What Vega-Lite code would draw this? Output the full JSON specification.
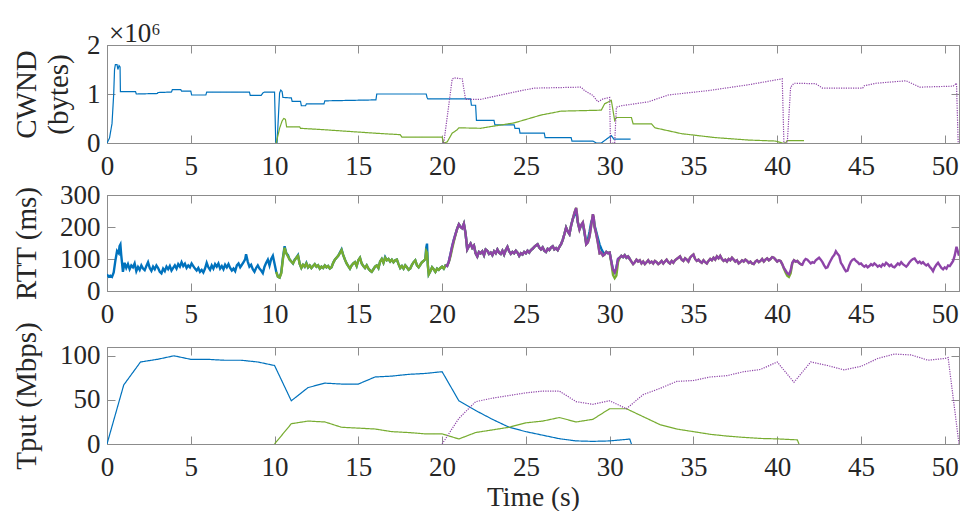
{
"$schema": "https://vega.github.io/schema/vega-lite/v6.json",
"background": "white",
"padding": {"left": 11, "top": 19, "right": 2, "bottom": 5},
"datasets": {
"cwnd": [
{"t":0,"a":0},{"t":0.15,"a":0.1},{"t":0.3,"a":0.4},{"t":0.4,"a":1.0},{"t":0.45,"a":1.5},{"t":0.5,"a":1.6},{"t":0.6,"a":1.6},{"t":0.65,"a":1.5},{"t":0.72,"a":1.58},{"t":0.78,"a":1.55},{"t":0.8,"a":1.05},{"t":1.7,"a":1.05},{"t":1.75,"a":1.0},{"t":3.0,"a":1.01},{"t":3.05,"a":1.03},{"t":3.85,"a":1.04},{"t":3.9,"a":1.09},{"t":4.4,"a":1.09},{"t":4.45,"a":1.06},{"t":5.0,"a":1.06},{"t":5.05,"a":0.98},{"t":5.9,"a":0.98},{"t":5.95,"a":1.04},{"t":8.5,"a":1.04},{"t":8.55,"a":0.97},{"t":9.2,"a":0.97},{"t":9.3,"a":1.02},{"t":9.4,"a":1.04},{"t":10.0,"a":1.04},{"t":10.07,"a":0.02},{"t":10.15,"a":0.0},{"t":10.3,"a":1.02},{"t":10.37,"a":1.08},{"t":10.45,"a":1.05},{"t":10.5,"a":0.93},{"t":11.0,"a":0.92},{"t":11.05,"a":0.85},{"t":11.55,"a":0.85},{"t":11.6,"a":0.76},{"t":11.85,"a":0.76},{"t":11.9,"a":0.8},{"t":12.95,"a":0.8},{"t":13.0,"a":0.86},{"t":16.05,"a":0.88},{"t":16.1,"a":1.0},{"t":19.05,"a":1.0},{"t":19.1,"a":0.93},{"t":19.15,"a":0.9},{"t":21.7,"a":0.9},{"t":21.75,"a":0.77},{"t":22.0,"a":0.77},{"t":22.05,"a":0.46},{"t":23.1,"a":0.46},{"t":23.15,"a":0.37},{"t":24.3,"a":0.37},{"t":24.35,"a":0.3},{"t":24.6,"a":0.3},{"t":24.65,"a":0.2},{"t":26.1,"a":0.2},{"t":26.15,"a":0.11},{"t":27.7,"a":0.11},{"t":27.75,"a":0.04},{"t":29.0,"a":0.04},{"t":29.2,"a":0.0},{"t":29.5,"a":0.0},{"t":29.9,"a":0.1},{"t":30.1,"a":0.15},{"t":30.25,"a":0.08},{"t":31.25,"a":0.08},
{"t":10.1,"b":0},{"t":10.3,"b":0.3},{"t":10.45,"b":0.45},{"t":10.55,"b":0.5},{"t":10.65,"b":0.48},{"t":10.72,"b":0.33},{"t":11.5,"b":0.33},{"t":11.55,"b":0.3},{"t":13,"b":0.27},{"t":16,"b":0.2},{"t":17.5,"b":0.17},{"t":17.6,"b":0.12},{"t":20.0,"b":0.12},{"t":20.1,"b":0.0},{"t":20.3,"b":0.02},{"t":20.6,"b":0.2},{"t":20.9,"b":0.27},{"t":21.0,"b":0.31},{"t":22.3,"b":0.3},{"t":23.0,"b":0.34},{"t":24.3,"b":0.41},{"t":25.9,"b":0.57},{"t":27.1,"b":0.65},{"t":29.5,"b":0.67},{"t":29.7,"b":0.8},{"t":30.1,"b":0.87},{"t":30.3,"b":0.46},{"t":30.4,"b":0.52},{"t":31.3,"b":0.52},{"t":31.4,"b":0.39},{"t":32.5,"b":0.39},{"t":32.7,"b":0.31},{"t":34.3,"b":0.19},{"t":36.3,"b":0.11},{"t":38.3,"b":0.06},{"t":39.9,"b":0.04},{"t":40.3,"b":0.0},{"t":40.5,"b":0.0},{"t":40.6,"b":0.05},{"t":41.6,"b":0.05},
{"t":20.1,"c":0},{"t":20.6,"c":1.3},{"t":20.7,"c":1.33},{"t":21.2,"c":1.31},{"t":21.4,"c":0.89},{"t":22.3,"c":0.89},{"t":24.3,"c":1.04},{"t":25.5,"c":1.12},{"t":28.3,"c":1.14},{"t":28.5,"c":1.07},{"t":29.0,"c":0.97},{"t":29.3,"c":0.84},{"t":29.6,"c":0.9},{"t":30.0,"c":0.93},{"t":30.05,"c":0},{"t":30.3,"c":0},{"t":30.4,"c":0.73},{"t":30.7,"c":0.76},{"t":32.3,"c":0.84},{"t":33.5,"c":0.98},{"t":35.9,"c":1.07},{"t":38.3,"c":1.19},{"t":40.3,"c":1.31},{"t":40.4,"c":0},{"t":40.6,"c":0},{"t":40.8,"c":1.14},{"t":41.0,"c":1.22},{"t":42.3,"c":1.21},{"t":42.7,"c":1.12},{"t":45.1,"c":1.12},{"t":45.2,"c":1.17},{"t":45.9,"c":1.22},{"t":47.7,"c":1.27},{"t":48.5,"c":1.14},{"t":50.5,"c":1.16},{"t":50.7,"c":1.22},{"t":50.8,"c":0}
],
"tput": [
{"t":0,"a":0},{"t":1,"a":67},{"t":2,"a":93},{"t":3,"a":96},{"t":4,"a":100},{"t":5,"a":96},{"t":6,"a":96},{"t":7,"a":95},{"t":8,"a":95},{"t":9,"a":93},{"t":10,"a":89},{"t":11,"a":49},{"t":12,"a":64},{"t":13,"a":69},{"t":14,"a":68},{"t":15,"a":68},{"t":16,"a":76},{"t":17,"a":77},{"t":18,"a":79},{"t":19,"a":80},{"t":20,"a":82},{"t":21,"a":49},{"t":22,"a":38},{"t":23,"a":28},{"t":24,"a":19},{"t":25,"a":14},{"t":26,"a":10},{"t":27,"a":6},{"t":28,"a":3.5},{"t":29,"a":3},{"t":30,"a":3.5},{"t":31.2,"a":5.6},{"t":31.3,"a":0},
{"t":10,"b":0},{"t":11,"b":23},{"t":12,"b":26},{"t":13,"b":25},{"t":14,"b":19},{"t":15,"b":18},{"t":16,"b":17},{"t":17,"b":14},{"t":18,"b":13},{"t":19,"b":11.5},{"t":20,"b":11.5},{"t":21,"b":5.7},{"t":22,"b":13},{"t":23,"b":16},{"t":24,"b":19},{"t":25,"b":24},{"t":26,"b":26},{"t":27,"b":30},{"t":28,"b":25},{"t":29,"b":28},{"t":30,"b":40},{"t":31,"b":40},{"t":32,"b":31},{"t":33,"b":22},{"t":34,"b":17},{"t":35,"b":14},{"t":36,"b":11},{"t":37,"b":9},{"t":38,"b":7.5},{"t":39,"b":6.3},{"t":40,"b":5.8},{"t":41.2,"b":4.7},{"t":41.3,"b":0},
{"t":20,"c":0},{"t":21,"c":29},{"t":22,"c":48},{"t":23,"c":52},{"t":24,"c":55},{"t":25,"c":58},{"t":26,"c":60},{"t":27,"c":60},{"t":28,"c":48},{"t":29,"c":45},{"t":30,"c":49},{"t":31,"c":40},{"t":32,"c":56},{"t":33,"c":63},{"t":34,"c":71},{"t":35,"c":72},{"t":36,"c":76},{"t":37,"c":77.5},{"t":38,"c":82},{"t":39,"c":84.5},{"t":40,"c":93},{"t":41,"c":70},{"t":42,"c":93},{"t":43,"c":89},{"t":44,"c":84},{"t":45,"c":88},{"t":46,"c":97},{"t":47,"c":102},{"t":48,"c":101},{"t":49,"c":95},{"t":50,"c":97},{"t":50.2,"c":98},{"t":50.85,"c":0}
],
"rtt": [
{"t":0,"a":52},{"t":0.1,"a":45},{"t":0.2,"a":48},{"t":0.3,"a":44},{"t":0.4,"a":58},{"t":0.5,"a":95},{"t":0.6,"a":125},{"t":0.7,"a":118},{"t":0.75,"a":140},{"t":0.8,"a":145},{"t":0.85,"a":112},{"t":0.95,"a":60},{"t":1.05,"a":88},{"t":1.15,"a":72},{"t":1.25,"a":84},{"t":1.35,"a":68},{"t":1.45,"a":80},{"t":1.55,"a":74},{"t":1.65,"a":86},{"t":1.75,"a":62},{"t":1.85,"a":75},{"t":1.95,"a":66},{"t":2.05,"a":80},{"t":2.15,"a":70},{"t":2.25,"a":65},{"t":2.35,"a":78},{"t":2.45,"a":90},{"t":2.55,"a":72},{"t":2.65,"a":63},{"t":2.75,"a":76},{"t":2.85,"a":68},{"t":2.95,"a":80},{"t":3.05,"a":72},{"t":3.15,"a":60},{"t":3.25,"a":55},{"t":3.35,"a":70},{"t":3.45,"a":62},{"t":3.55,"a":76},{"t":3.65,"a":68},{"t":3.75,"a":78},{"t":3.85,"a":64},{"t":3.95,"a":72},{"t":4.05,"a":80},{"t":4.15,"a":70},{"t":4.25,"a":84},{"t":4.35,"a":76},{"t":4.45,"a":90},{"t":4.55,"a":78},{"t":4.65,"a":85},{"t":4.75,"a":72},{"t":4.85,"a":80},{"t":4.95,"a":74},{"t":5.05,"a":86},{"t":5.15,"a":78},{"t":5.25,"a":70},{"t":5.35,"a":64},{"t":5.45,"a":72},{"t":5.55,"a":60},{"t":5.65,"a":66},{"t":5.75,"a":58},{"t":5.85,"a":70},{"t":5.95,"a":88},{"t":6.05,"a":74},{"t":6.15,"a":66},{"t":6.25,"a":80},{"t":6.35,"a":70},{"t":6.45,"a":84},{"t":6.55,"a":76},{"t":6.65,"a":86},{"t":6.75,"a":70},{"t":6.85,"a":78},{"t":6.95,"a":68},{"t":7.05,"a":82},{"t":7.15,"a":74},{"t":7.25,"a":84},{"t":7.35,"a":72},{"t":7.45,"a":64},{"t":7.55,"a":70},{"t":7.65,"a":62},{"t":7.75,"a":80},{"t":7.85,"a":86},{"t":7.95,"a":74},{"t":8.05,"a":82},{"t":8.15,"a":90},{"t":8.25,"a":100},{"t":8.3,"a":115},{"t":8.4,"a":92},{"t":8.5,"a":76},{"t":8.6,"a":82},{"t":8.7,"a":68},{"t":8.8,"a":60},{"t":8.9,"a":72},{"t":9.0,"a":80},{"t":9.1,"a":70},{"t":9.2,"a":64},{"t":9.3,"a":56},{"t":9.4,"a":76},{"t":9.5,"a":88},{"t":9.6,"a":98},{"t":9.7,"a":80},{"t":9.8,"a":100},{"t":9.9,"a":110},{"t":10.0,"a":85},
{"t":10.1,"a":60,"b":60},{"t":10.2,"a":45,"b":45},{"t":10.3,"a":42,"b":42},{"t":10.4,"a":58,"b":55},{"t":10.5,"a":104,"b":100},{"t":10.6,"a":140,"b":135},{"t":10.7,"a":118,"b":118},{"t":10.8,"a":112,"b":108},{"t":10.9,"a":98,"b":98},{"t":11.0,"a":92,"b":92},{"t":11.1,"a":86,"b":86},{"t":11.2,"a":98,"b":96},{"t":11.3,"a":104,"b":104},{"t":11.4,"a":112,"b":110},{"t":11.5,"a":85,"b":85},{"t":11.6,"a":72,"b":72},{"t":11.7,"a":82,"b":82},{"t":11.8,"a":76,"b":76},{"t":11.9,"a":88,"b":86},{"t":12.0,"a":74,"b":74},{"t":12.1,"a":80,"b":80},{"t":12.2,"a":72,"b":72},{"t":12.3,"a":78,"b":78},{"t":12.4,"a":84,"b":84},{"t":12.5,"a":76,"b":76},{"t":12.6,"a":80,"b":80},{"t":12.7,"a":70,"b":70},{"t":12.8,"a":76,"b":76},{"t":12.9,"a":72,"b":72},{"t":13.0,"a":80,"b":80},{"t":13.1,"a":74,"b":74},{"t":13.2,"a":78,"b":78},{"t":13.3,"a":70,"b":70},{"t":13.4,"a":74,"b":74},{"t":13.5,"a":88,"b":88},{"t":13.6,"a":98,"b":98},{"t":13.7,"a":104,"b":104},{"t":13.8,"a":110,"b":110},{"t":13.9,"a":120,"b":118},{"t":14.0,"a":130,"b":128},{"t":14.1,"a":112,"b":112},{"t":14.2,"a":98,"b":98},{"t":14.3,"a":86,"b":86},{"t":14.4,"a":78,"b":78},{"t":14.5,"a":70,"b":70},{"t":14.6,"a":80,"b":80},{"t":14.7,"a":86,"b":86},{"t":14.8,"a":90,"b":90},{"t":14.9,"a":78,"b":78},{"t":15.0,"a":96,"b":96},{"t":15.1,"a":104,"b":104},{"t":15.2,"a":86,"b":86},{"t":15.3,"a":78,"b":78},{"t":15.4,"a":72,"b":72},{"t":15.5,"a":80,"b":80},{"t":15.6,"a":70,"b":70},{"t":15.7,"a":64,"b":64},{"t":15.8,"a":60,"b":60},{"t":15.9,"a":68,"b":68},{"t":16.0,"a":76,"b":76},{"t":16.1,"a":80,"b":80},{"t":16.2,"a":72,"b":72},{"t":16.3,"a":92,"b":92},{"t":16.4,"a":100,"b":100},{"t":16.5,"a":88,"b":88},{"t":16.6,"a":106,"b":104},{"t":16.7,"a":96,"b":96},{"t":16.8,"a":100,"b":100},{"t":16.9,"a":92,"b":92},{"t":17.0,"a":98,"b":98},{"t":17.1,"a":90,"b":90},{"t":17.2,"a":96,"b":96},{"t":17.3,"a":98,"b":98},{"t":17.4,"a":84,"b":84},{"t":17.5,"a":72,"b":72},{"t":17.6,"a":78,"b":78},{"t":17.7,"a":70,"b":70},{"t":17.8,"a":80,"b":80},{"t":17.9,"a":74,"b":74},{"t":18.0,"a":66,"b":66},{"t":18.1,"a":70,"b":70},{"t":18.2,"a":82,"b":82},{"t":18.3,"a":90,"b":90},{"t":18.4,"a":96,"b":96},{"t":18.5,"a":80,"b":80},{"t":18.6,"a":74,"b":74},{"t":18.7,"a":82,"b":82},{"t":18.8,"a":90,"b":90},{"t":18.9,"a":94,"b":94},{"t":19.0,"a":100,"b":100},{"t":19.05,"a":135,"b":125},{"t":19.1,"a":148,"b":120},{"t":19.15,"a":80,"b":80},{"t":19.2,"a":52,"b":52},{"t":19.3,"a":62,"b":62},{"t":19.4,"a":74,"b":74},{"t":19.5,"a":68,"b":68},{"t":19.6,"a":60,"b":60},{"t":19.7,"a":70,"b":70},{"t":19.8,"a":66,"b":66},{"t":19.9,"a":72,"b":72},{"t":20.0,"a":76,"b":76},{"t":20.1,"a":70,"b":70},
{"t":20.2,"a":80,"b":80,"c":80},{"t":20.3,"a":78,"b":78,"c":78},{"t":20.4,"a":92,"b":90,"c":92},{"t":20.5,"a":115,"b":108,"c":115},{"t":20.6,"a":140,"b":132,"c":140},{"t":20.7,"a":160,"b":155,"c":160},{"t":20.8,"a":178,"b":175,"c":178},{"t":20.9,"a":195,"b":195,"c":195},{"t":21.0,"a":208,"b":208,"c":208},{"t":21.1,"a":200,"b":200,"c":200},{"t":21.2,"a":196,"b":196,"c":196},{"t":21.3,"a":210,"b":210,"c":210},{"t":21.4,"a":180,"b":180,"c":180},{"t":21.5,"a":130,"b":130,"c":130},{"t":21.6,"a":140,"b":140,"c":140},{"t":21.7,"a":148,"b":148,"c":148},{"t":21.8,"a":135,"b":135,"c":135},{"t":21.9,"a":142,"b":142,"c":142},{"t":22.0,"a":118,"b":118,"c":118},{"t":22.1,"a":108,"b":108,"c":108},{"t":22.2,"a":122,"b":122,"c":122},{"t":22.3,"a":118,"b":118,"c":118},{"t":22.4,"a":124,"b":124,"c":124},{"t":22.5,"a":112,"b":112,"c":112},{"t":22.6,"a":130,"b":130,"c":130},{"t":22.7,"a":126,"b":126,"c":126},{"t":22.8,"a":116,"b":116,"c":116},{"t":22.9,"a":120,"b":120,"c":120},{"t":23.0,"a":112,"b":112,"c":112},{"t":23.1,"a":124,"b":124,"c":124},{"t":23.2,"a":118,"b":118,"c":118},{"t":23.3,"a":130,"b":130,"c":130},{"t":23.4,"a":120,"b":120,"c":120},{"t":23.5,"a":116,"b":116,"c":116},{"t":23.6,"a":126,"b":126,"c":126},{"t":23.7,"a":114,"b":114,"c":114},{"t":23.8,"a":128,"b":128,"c":128},{"t":23.9,"a":138,"b":138,"c":138},{"t":24.0,"a":124,"b":124,"c":124},{"t":24.1,"a":116,"b":116,"c":116},{"t":24.2,"a":122,"b":122,"c":122},{"t":24.3,"a":118,"b":118,"c":118},{"t":24.4,"a":126,"b":126,"c":126},{"t":24.5,"a":120,"b":120,"c":120},{"t":24.6,"a":110,"b":110,"c":110},{"t":24.7,"a":118,"b":118,"c":118},{"t":24.8,"a":114,"b":114,"c":114},{"t":24.9,"a":122,"b":122,"c":122},{"t":25.0,"a":118,"b":118,"c":118},{"t":25.1,"a":126,"b":126,"c":126},{"t":25.2,"a":120,"b":120,"c":120},{"t":25.3,"a":128,"b":128,"c":128},{"t":25.4,"a":132,"b":132,"c":132},{"t":25.5,"a":138,"b":138,"c":138},{"t":25.6,"a":142,"b":142,"c":142},{"t":25.7,"a":146,"b":146,"c":146},{"t":25.8,"a":136,"b":136,"c":136},{"t":25.9,"a":130,"b":130,"c":130},{"t":26.0,"a":136,"b":136,"c":136},{"t":26.1,"a":126,"b":126,"c":126},{"t":26.2,"a":122,"b":122,"c":122},{"t":26.3,"a":132,"b":132,"c":132},{"t":26.4,"a":128,"b":128,"c":128},{"t":26.5,"a":136,"b":136,"c":136},{"t":26.6,"a":140,"b":140,"c":140},{"t":26.7,"a":130,"b":130,"c":130},{"t":26.8,"a":134,"b":134,"c":134},{"t":26.9,"a":128,"b":128,"c":128},{"t":27.0,"a":138,"b":138,"c":138},{"t":27.1,"a":146,"b":146,"c":146},{"t":27.2,"a":160,"b":160,"c":160},{"t":27.3,"a":178,"b":178,"c":178},{"t":27.4,"a":198,"b":198,"c":198},{"t":27.5,"a":186,"b":186,"c":186},{"t":27.6,"a":178,"b":178,"c":178},{"t":27.7,"a":205,"b":205,"c":205},{"t":27.8,"a":225,"b":225,"c":225},{"t":27.9,"a":238,"b":245,"c":245},{"t":28.0,"a":245,"b":260,"c":260},{"t":28.05,"a":232,"b":240,"c":240},{"t":28.1,"a":215,"b":215,"c":215},{"t":28.2,"a":195,"b":192,"c":192},{"t":28.3,"a":206,"b":206,"c":206},{"t":28.4,"a":210,"b":214,"c":214},{"t":28.5,"a":180,"b":185,"c":185},{"t":28.6,"a":150,"b":146,"c":146},{"t":28.7,"a":160,"b":152,"c":152},{"t":28.8,"a":185,"b":170,"c":170},{"t":28.9,"a":215,"b":205,"c":205},{"t":29.0,"a":228,"b":240,"c":240},{"t":29.05,"a":222,"b":230,"c":230},{"t":29.1,"a":205,"b":200,"c":200},{"t":29.2,"a":185,"b":178,"c":178},{"t":29.3,"a":165,"b":150,"c":150},{"t":29.4,"a":145,"b":118,"c":118},{"t":29.5,"a":132,"b":120,"c":120},{"t":29.6,"a":122,"b":110,"c":110},{"t":29.7,"a":116,"b":114,"c":114},{"t":29.8,"a":122,"b":122,"c":122},{"t":29.9,"a":118,"b":118,"c":118},{"t":30.0,"a":120,"b":120,"c":120},{"t":30.1,"a":92,"b":88,"c":92},{"t":30.2,"a":66,"b":50,"c":66},{"t":30.3,"a":58,"b":40,"c":58},{"t":30.4,"a":72,"b":48,"c":72},{"t":30.5,"a":100,"b":90,"c":100},{"t":30.6,"a":104,"b":104,"c":104},{"t":30.7,"a":110,"b":110,"c":110},{"t":30.8,"a":106,"b":106,"c":106},{"t":30.9,"a":112,"b":112,"c":112},{"t":31.0,"a":104,"b":104,"c":104},{"t":31.1,"a":108,"b":108,"c":108},{"t":31.2,"a":100,"b":100,"c":100},
{"t":31.3,"b":92,"c":92},{"t":31.4,"b":84,"c":84},{"t":31.5,"b":90,"c":90},{"t":31.6,"b":98,"c":98},{"t":31.7,"b":92,"c":92},{"t":31.8,"b":96,"c":96},{"t":31.9,"b":86,"c":86},{"t":32.0,"b":92,"c":92},{"t":32.1,"b":84,"c":84},{"t":32.2,"b":90,"c":90},{"t":32.3,"b":96,"c":96},{"t":32.4,"b":88,"c":88},{"t":32.5,"b":92,"c":92},{"t":32.6,"b":86,"c":86},{"t":32.7,"b":94,"c":94},{"t":32.8,"b":90,"c":90},{"t":32.9,"b":84,"c":84},{"t":33.0,"b":88,"c":88},{"t":33.1,"b":94,"c":94},{"t":33.2,"b":86,"c":86},{"t":33.3,"b":92,"c":92},{"t":33.4,"b":98,"c":98},{"t":33.5,"b":90,"c":90},{"t":33.6,"b":86,"c":86},{"t":33.7,"b":94,"c":94},{"t":33.8,"b":88,"c":88},{"t":33.9,"b":96,"c":96},{"t":34.0,"b":100,"c":100},{"t":34.1,"b":104,"c":104},{"t":34.2,"b":108,"c":108},{"t":34.3,"b":98,"c":98},{"t":34.4,"b":94,"c":94},{"t":34.5,"b":102,"c":102},{"t":34.6,"b":98,"c":98},{"t":34.7,"b":92,"c":92},{"t":34.8,"b":104,"c":104},{"t":34.9,"b":110,"c":110},{"t":35.0,"b":114,"c":114},{"t":35.1,"b":100,"c":100},{"t":35.2,"b":94,"c":94},{"t":35.3,"b":98,"c":98},{"t":35.4,"b":92,"c":92},{"t":35.5,"b":88,"c":88},{"t":35.6,"b":96,"c":96},{"t":35.7,"b":90,"c":90},{"t":35.8,"b":86,"c":86},{"t":35.9,"b":94,"c":94},{"t":36.0,"b":100,"c":100},{"t":36.1,"b":96,"c":96},{"t":36.2,"b":104,"c":104},{"t":36.3,"b":98,"c":98},{"t":36.4,"b":108,"c":108},{"t":36.5,"b":102,"c":102},{"t":36.6,"b":110,"c":110},{"t":36.7,"b":100,"c":100},{"t":36.8,"b":94,"c":94},{"t":36.9,"b":98,"c":98},{"t":37.0,"b":92,"c":92},{"t":37.1,"b":100,"c":100},{"t":37.2,"b":96,"c":96},{"t":37.3,"b":104,"c":104},{"t":37.4,"b":98,"c":98},{"t":37.5,"b":92,"c":92},{"t":37.6,"b":96,"c":96},{"t":37.7,"b":86,"c":86},{"t":37.8,"b":90,"c":90},{"t":37.9,"b":96,"c":96},{"t":38.0,"b":92,"c":92},{"t":38.1,"b":98,"c":98},{"t":38.2,"b":94,"c":94},{"t":38.3,"b":88,"c":88},{"t":38.4,"b":92,"c":92},{"t":38.5,"b":86,"c":86},{"t":38.6,"b":84,"c":84},{"t":38.7,"b":92,"c":92},{"t":38.8,"b":96,"c":96},{"t":38.9,"b":90,"c":90},{"t":39.0,"b":94,"c":94},{"t":39.1,"b":100,"c":100},{"t":39.2,"b":92,"c":92},{"t":39.3,"b":98,"c":98},{"t":39.4,"b":102,"c":102},{"t":39.5,"b":96,"c":96},{"t":39.6,"b":100,"c":100},{"t":39.7,"b":106,"c":106},{"t":39.8,"b":104,"c":104},{"t":39.9,"b":98,"c":98},{"t":40.0,"b":92,"c":92},{"t":40.1,"b":96,"c":96},{"t":40.2,"b":94,"c":94},{"t":40.3,"b":84,"c":84},{"t":40.4,"b":70,"c":72},{"t":40.5,"b":58,"c":64},{"t":40.6,"b":48,"c":56},{"t":40.7,"b":44,"c":52},{"t":40.8,"b":55,"c":64},{"t":40.9,"b":86,"c":88},{"t":41.0,"b":96,"c":96},{"t":41.1,"b":92,"c":92},{"t":41.2,"b":94,"c":94},{"t":41.3,"b":88,"c":88},{"t":41.4,"b":84,"c":84},{"t":41.5,"b":82,"c":82},
{"t":41.6,"c":94},{"t":41.7,"c":100},{"t":41.8,"c":98},{"t":41.9,"c":92},{"t":42.0,"c":86},{"t":42.1,"c":90},{"t":42.2,"c":88},{"t":42.3,"c":96},{"t":42.4,"c":100},{"t":42.5,"c":104},{"t":42.6,"c":98},{"t":42.7,"c":90},{"t":42.8,"c":80},{"t":42.9,"c":72},{"t":43.0,"c":74},{"t":43.1,"c":86},{"t":43.2,"c":96},{"t":43.3,"c":106},{"t":43.4,"c":112},{"t":43.5,"c":124},{"t":43.6,"c":116},{"t":43.7,"c":110},{"t":43.8,"c":88},{"t":43.9,"c":80},{"t":44.0,"c":70},{"t":44.1,"c":62},{"t":44.2,"c":64},{"t":44.3,"c":80},{"t":44.4,"c":92},{"t":44.5,"c":98},{"t":44.6,"c":100},{"t":44.7,"c":94},{"t":44.8,"c":90},{"t":44.9,"c":84},{"t":45.0,"c":86},{"t":45.1,"c":80},{"t":45.2,"c":76},{"t":45.3,"c":80},{"t":45.4,"c":74},{"t":45.5,"c":78},{"t":45.6,"c":84},{"t":45.7,"c":80},{"t":45.8,"c":86},{"t":45.9,"c":82},{"t":46.0,"c":76},{"t":46.1,"c":80},{"t":46.2,"c":76},{"t":46.3,"c":84},{"t":46.4,"c":80},{"t":46.5,"c":88},{"t":46.6,"c":84},{"t":46.7,"c":78},{"t":46.8,"c":82},{"t":46.9,"c":76},{"t":47.0,"c":74},{"t":47.1,"c":80},{"t":47.2,"c":86},{"t":47.3,"c":82},{"t":47.4,"c":90},{"t":47.5,"c":84},{"t":47.6,"c":80},{"t":47.7,"c":76},{"t":47.8,"c":82},{"t":47.9,"c":90},{"t":48.0,"c":96},{"t":48.1,"c":100},{"t":48.2,"c":102},{"t":48.3,"c":94},{"t":48.4,"c":88},{"t":48.5,"c":92},{"t":48.6,"c":86},{"t":48.7,"c":90},{"t":48.8,"c":84},{"t":48.9,"c":80},{"t":49.0,"c":84},{"t":49.1,"c":76},{"t":49.2,"c":70},{"t":49.3,"c":62},{"t":49.4,"c":74},{"t":49.5,"c":82},{"t":49.6,"c":88},{"t":49.7,"c":80},{"t":49.8,"c":72},{"t":49.9,"c":68},{"t":50.0,"c":74},{"t":50.1,"c":70},{"t":50.2,"c":80},{"t":50.3,"c":78},{"t":50.4,"c":86},{"t":50.5,"c":94},{"t":50.6,"c":112},{"t":50.7,"c":138},{"t":50.8,"c":120},{"t":50.85,"c":110}
]
},
"config": {
"font": "Times New Roman, Liberation Serif, DejaVu Serif, serif",
"style": {"guide-label": {"font": "Times New Roman, Liberation Serif, DejaVu Serif, serif"}, "guide-title": {"font": "Times New Roman, Liberation Serif, DejaVu Serif, serif"}},
"axis": {"labelFont": "Times New Roman, Liberation Serif, DejaVu Serif, serif", "labelFontSize": 27, "labelColor": "#262626", "titleFont": "Times New Roman, Liberation Serif, DejaVu Serif, serif", "titleFontWeight": "normal", "titleColor": "#262626", "domainColor": "#8c8c8c", "tickColor": "#8c8c8c", "tickSize": -8, "grid": false, "format": "d"},
"axisX": {"labelPadding": 18, "titleFontSize": 27.5, "titlePadding": 3, "labelFlush": false},
"axisY": {"labelPadding": 15, "titleFontSize": 29, "titleBaseline": "alphabetic", "titleX": -72, "titleLineHeight": 32},
"view": {"stroke": "#8c8c8c", "strokeWidth": 1},
"title": {"font": "Times New Roman, Liberation Serif, DejaVu Serif, serif", "fontSize": 27, "fontWeight": "normal", "color": "#262626", "anchor": "start", "frame": "group", "offset": -17, "dx": 2}
},
"bounds": "flush",
"spacing": 52,
"vconcat": [
{
"width": 852, "height": 98,
"title": {"text": "×10⁶"},
"data": {"name": "cwnd"},
"transform": [{"fold": ["a", "b", "c"], "as": ["flow", "v"]}, {"filter": "isValid(datum.v)"}],
"layer": [
{"mark": {"type": "line", "strokeWidth": 1.2, "clip": true},
 "encoding": {
  "x": {"field": "t", "type": "quantitative", "scale": {"domain": [0, 50.85], "nice": false, "zero": false}, "axis": {"values": [0,5,10,15,20,25,30,35,40,45,50], "title": null}},
  "y": {"field": "v", "type": "quantitative", "scale": {"domain": [0, 2], "nice": false}, "axis": {"values": [0, 1, 2], "title": ["CWND", "(bytes)"]}},
  "color": {"field": "flow", "type": "nominal", "scale": {"domain": ["a", "b", "c"], "range": ["#0072BD", "#77AC30", "#8E44A8"]}, "legend": null},
  "strokeDash": {"field": "flow", "type": "nominal", "scale": {"domain": ["a", "b", "c"], "range": [[1, 0], [1, 0], [1.2, 1.2]]}, "legend": null}
 }},
{"mark": {"type": "line", "opacity": 0},
 "encoding": {
  "x": {"field": "t", "type": "quantitative", "axis": {"orient": "top", "values": [0,5,10,15,20,25,30,35,40,45,50], "labels": false, "title": null}},
  "y": {"field": "v", "type": "quantitative", "axis": {"orient": "right", "values": [0, 1, 2], "labels": false, "title": null}},
  "detail": {"field": "flow"}
 }}
],
"resolve": {"axis": {"x": "independent", "y": "independent"}}
},
{
"bounds": "flush",
"spacing": 56,
"vconcat": [
{
"width": 852, "height": 96,
"data": {"name": "rtt"},
"transform": [{"fold": ["a", "b", "c"], "as": ["flow", "v"]}, {"filter": "isValid(datum.v)"}],
"layer": [
{"mark": {"type": "line", "strokeWidth": 2.4, "clip": true},
 "encoding": {
  "x": {"field": "t", "type": "quantitative", "scale": {"domain": [0, 50.85], "nice": false, "zero": false}, "axis": {"values": [0,5,10,15,20,25,30,35,40,45,50], "title": null}},
  "y": {"field": "v", "type": "quantitative", "scale": {"domain": [0, 300], "nice": false}, "axis": {"values": [0, 100, 200, 300], "title": "RTT (ms)"}},
  "color": {"field": "flow", "type": "nominal", "scale": {"domain": ["a", "b", "c"], "range": ["#0072BD", "#77AC30", "#8E44A8"]}, "legend": null}
 }},
{"mark": {"type": "line", "opacity": 0},
 "encoding": {
  "x": {"field": "t", "type": "quantitative", "axis": {"orient": "top", "values": [0,5,10,15,20,25,30,35,40,45,50], "labels": false, "title": null}},
  "y": {"field": "v", "type": "quantitative", "axis": {"orient": "right", "values": [0, 100, 200, 300], "labels": false, "title": null}},
  "detail": {"field": "flow"}
 }}
],
"resolve": {"axis": {"x": "independent", "y": "independent"}}
},
{
"width": 852, "height": 97,
"data": {"name": "tput"},
"transform": [{"fold": ["a", "b", "c"], "as": ["flow", "v"]}, {"filter": "isValid(datum.v)"}],
"layer": [
{"mark": {"type": "line", "strokeWidth": 1.2, "clip": true},
 "encoding": {
  "x": {"field": "t", "type": "quantitative", "scale": {"domain": [0, 50.85], "nice": false, "zero": false}, "axis": {"values": [0,5,10,15,20,25,30,35,40,45,50], "title": "Time (s)"}},
  "y": {"field": "v", "type": "quantitative", "scale": {"domain": [0, 110], "nice": false}, "axis": {"values": [0, 50, 100], "title": "Tput (Mbps)"}},
  "color": {"field": "flow", "type": "nominal", "scale": {"domain": ["a", "b", "c"], "range": ["#0072BD", "#77AC30", "#8E44A8"]}, "legend": null},
  "strokeDash": {"field": "flow", "type": "nominal", "scale": {"domain": ["a", "b", "c"], "range": [[1, 0], [1, 0], [1.2, 1.2]]}, "legend": null}
 }},
{"mark": {"type": "line", "opacity": 0},
 "encoding": {
  "x": {"field": "t", "type": "quantitative", "axis": {"orient": "top", "values": [0,5,10,15,20,25,30,35,40,45,50], "labels": false, "title": null}},
  "y": {"field": "v", "type": "quantitative", "axis": {"orient": "right", "values": [0, 50, 100], "labels": false, "title": null}},
  "detail": {"field": "flow"}
 }}
],
"resolve": {"axis": {"x": "independent", "y": "independent"}}
}
]
}
]
}
